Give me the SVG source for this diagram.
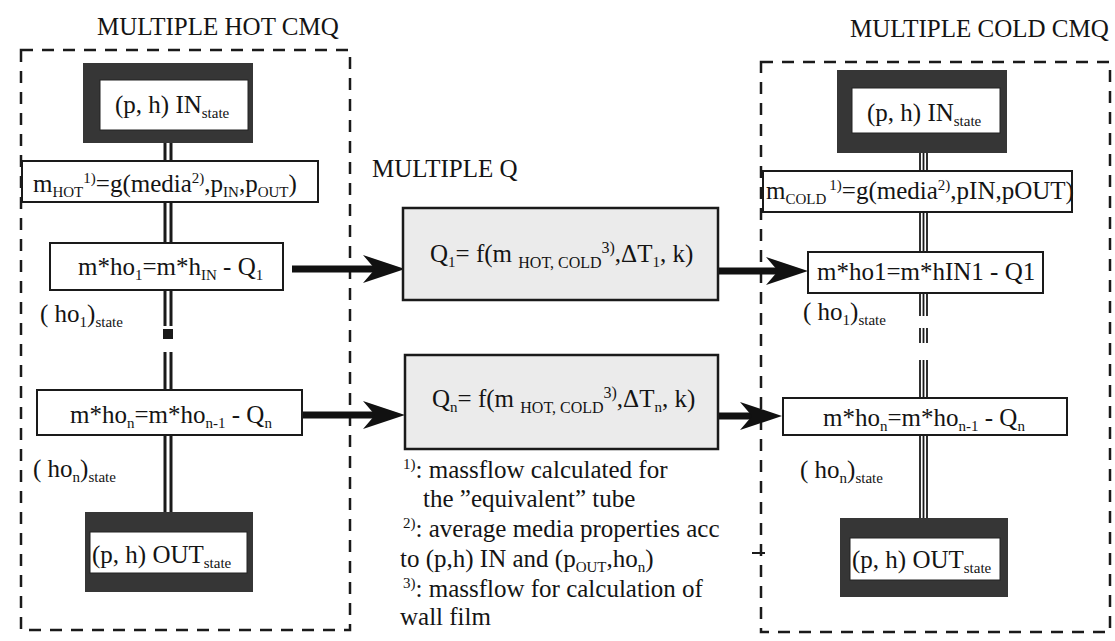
<svg xmlns="http://www.w3.org/2000/svg" width="1115" height="641" viewBox="0 0 1115 641">
<defs>
<style>
text { font-family: "Liberation Serif", "Times New Roman", serif; fill: #141414; font-size: 25px; }
.s { font-size: 15px; }
.q { font-size: 16px; }
.box { fill: #fff; stroke: #1a1a1a; stroke-width: 2; }
.qbox { fill: #ebebeb; stroke: #1a1a1a; stroke-width: 2.5; }
.frame { fill: #363636; }
.inner { fill: #fff; stroke: #222; stroke-width: 1; }
.dash { fill: none; stroke: #1a1a1a; stroke-width: 2.5; stroke-dasharray: 12 9; }
.pipe { fill: none; stroke: #1a1a1a; stroke-width: 3; }
.pipe3 { fill: none; stroke: #1a1a1a; stroke-width: 1.8; }
.arrow { stroke: #111; stroke-width: 7; fill: none; marker-end: url(#ah); }
</style>
<marker id="ah" markerUnits="userSpaceOnUse" markerWidth="42" markerHeight="28" viewBox="0 0 42 28" refX="16" refY="14" orient="auto">
<path d="M0,0 L42,14 L0,28 L12,14 Z" fill="#111"/>
</marker>
</defs>
<rect width="1115" height="641" fill="#fff"/>

<g id="hot-group">
<rect class="dash" x="21" y="50" width="329" height="580"/>
<text x="97" y="35">MULTIPLE HOT CMQ</text>
</g>
<g id="cold-group">
<rect class="dash" x="761" y="62" width="349" height="570"/>
<line x1="752" y1="553" x2="765" y2="553" stroke="#1a1a1a" stroke-width="2"/>
<text x="850" y="37">MULTIPLE COLD CMQ</text>
</g>
<g id="q-group">
<text x="372" y="177">MULTIPLE Q</text>
</g>

<g id="connectors">
<path class="pipe" d="M165,143 V161 M171,143 V161 M165,202 V243 M171,202 V243 M165,290 V326 M171,290 V326 M165,352 V390 M171,352 V390 M165,435 V512 M171,435 V512"/>
<rect x="163" y="329" width="10" height="10" fill="#1a1a1a"/>
<path class="pipe3" d="M920,153 V171 M923.5,153 V171 M927,153 V171 M920,212 V252 M923.5,212 V252 M927,212 V252 M920,293 V316 M923.5,293 V316 M927,293 V316 M920,328 V343 M923.5,328 V343 M927,328 V343 M920,360 V398 M923.5,360 V398 M927,360 V398 M920,435 V518 M923.5,435 V518 M927,435 V518"/>
<line class="arrow" x1="292" y1="269" x2="379" y2="269"/>
<line class="arrow" x1="718" y1="271" x2="782" y2="271"/>
<line class="arrow" x1="302" y1="415" x2="379" y2="415"/>
<line class="arrow" x1="716" y1="416" x2="756" y2="416"/>
</g>

<g id="hot-in">
<rect class="frame" x="83" y="63" width="170" height="80"/>
<rect class="inner" x="100" y="80" width="148" height="50"/>
<text x="115" y="113">(p, h) IN<tspan class="s" dy="5">state</tspan></text>
</g>
<g id="hot-mass">
<rect class="box" x="22" y="161" width="296" height="41"/>
<text x="33" y="192">m<tspan class="s" dy="5">HOT</tspan><tspan class="s" dy="-14">1)</tspan><tspan dy="9">=g(media</tspan><tspan class="s" dy="-9">2)</tspan><tspan dy="9">,p</tspan><tspan class="s" dy="5">IN</tspan><tspan dy="-5">,p</tspan><tspan class="s" dy="5">OUT</tspan><tspan dy="-5">)</tspan></text>
</g>
<g id="hot-step1">
<rect class="box" x="50" y="243" width="233" height="47"/>
<text x="78" y="275">m*ho<tspan class="s" dy="5">1</tspan><tspan dy="-5">=m*h</tspan><tspan class="s" dy="5">IN</tspan><tspan dy="-5"> - Q</tspan><tspan class="s" dy="5">1</tspan></text>
</g>
<g id="hot-state1">
<text x="40" y="322">( ho<tspan class="s" dy="5">1</tspan><tspan dy="-5">)</tspan><tspan class="s" dy="5">state</tspan></text>
</g>
<g id="hot-stepn">
<rect class="box" x="37" y="390" width="265" height="45"/>
<text x="70" y="423">m*ho<tspan class="s" dy="5">n</tspan><tspan dy="-5">=m*ho</tspan><tspan class="s" dy="5">n-1</tspan><tspan dy="-5"> - Q</tspan><tspan class="s" dy="5">n</tspan></text>
</g>
<g id="hot-staten">
<text x="33" y="477">( ho<tspan class="s" dy="5">n</tspan><tspan dy="-5">)</tspan><tspan class="s" dy="5">state</tspan></text>
</g>
<g id="hot-out">
<rect class="frame" x="85" y="512" width="168" height="80"/>
<rect class="inner" x="90" y="532" width="157" height="41"/>
<text x="92" y="563">(p, h) OUT<tspan class="s" dy="5">state</tspan></text>
</g>

<g id="q1">
<rect class="qbox" x="403" y="208" width="315" height="92"/>
<text x="430" y="262">Q<tspan class="s" dy="5">1</tspan><tspan dy="-5">= f(m </tspan><tspan class="q" dy="6">HOT, COLD</tspan><tspan class="q" dy="-15">3)</tspan><tspan dy="9">,ΔT</tspan><tspan class="s" dy="5">1</tspan><tspan dy="-5">, k)</tspan></text>
</g>
<g id="qn">
<rect class="qbox" x="405" y="355" width="313" height="94"/>
<text x="432" y="407">Q<tspan class="s" dy="5">n</tspan><tspan dy="-5">= f(m </tspan><tspan class="q" dy="6">HOT, COLD</tspan><tspan class="q" dy="-15">3)</tspan><tspan dy="9">,ΔT</tspan><tspan class="s" dy="5">n</tspan><tspan dy="-5">, k)</tspan></text>
</g>
<g id="footnotes">
<text x="403" y="478"><tspan class="s" dy="-9">1)</tspan><tspan dy="9">: massflow calculated for</tspan></text>
<text x="423" y="507">the ”equivalent” tube</text>
<text x="403" y="537"><tspan class="s" dy="-9">2)</tspan><tspan dy="9">: average media properties acc</tspan></text>
<text x="400" y="567">to (p,h) IN and (p<tspan class="s" dy="5">OUT</tspan><tspan dy="-5">,ho</tspan><tspan class="s" dy="5">n</tspan><tspan dy="-5">)</tspan></text>
<text x="403" y="597"><tspan class="s" dy="-9">3)</tspan><tspan dy="9">: massflow for calculation of</tspan></text>
<text x="400" y="625">wall film</text>
</g>

<g id="cold-in">
<rect class="frame" x="837" y="70" width="170" height="83"/>
<rect class="inner" x="852" y="88" width="148" height="45"/>
<text x="867" y="121">(p, h) IN<tspan class="s" dy="5">state</tspan></text>
</g>
<g id="cold-mass">
<rect class="box" x="763" y="171" width="309" height="41"/>
<text x="766" y="199">m<tspan class="s" dy="5">COLD</tspan><tspan class="s" dx="3" dy="-14">1)</tspan><tspan dy="9">=g(media</tspan><tspan class="s" dy="-9">2)</tspan><tspan dy="9">,pIN,pOUT)</tspan></text>
</g>
<g id="cold-step1">
<rect class="box" x="808" y="252" width="235" height="41"/>
<text x="817" y="280">m*ho1=m*hIN1 - Q1</text>
</g>
<g id="cold-state1">
<text x="803" y="320">( ho<tspan class="s" dy="5">1</tspan><tspan dy="-5">)</tspan><tspan class="s" dy="5">state</tspan></text>
</g>
<g id="cold-stepn">
<rect class="box" x="783" y="398" width="284" height="37"/>
<text x="823" y="426">m*ho<tspan class="s" dy="5">n</tspan><tspan dy="-5">=m*ho</tspan><tspan class="s" dy="5">n-1</tspan><tspan dy="-5"> - Q</tspan><tspan class="s" dy="5">n</tspan></text>
</g>
<g id="cold-staten">
<text x="800" y="478">( ho<tspan class="s" dy="5">n</tspan><tspan dy="-5">)</tspan><tspan class="s" dy="5">state</tspan></text>
</g>
<g id="cold-out">
<rect class="frame" x="840" y="518" width="168" height="79"/>
<rect class="inner" x="850" y="538" width="150" height="42"/>
<text x="852" y="568">(p, h) OUT<tspan class="s" dy="5">state</tspan></text>
</g>
</svg>
